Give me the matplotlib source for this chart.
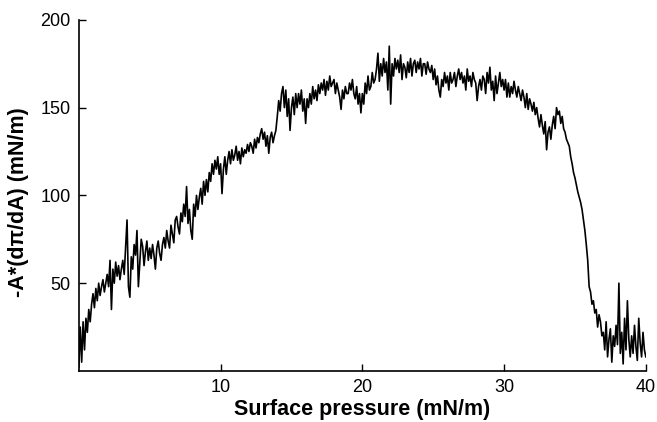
import numpy as np
import matplotlib
matplotlib.use("Agg")
import matplotlib.pyplot as plt

plt.rcParams['font.family'] = ['Liberation Sans', 'DejaVu Sans']

# Surface pressure sampled every 0.1 mN/m from 0 to 40
x_start, x_step = 0.0, 0.1
modulus = [
    2, 25, 5, 28, 12, 30, 22, 35, 28, 38,
    44, 36, 47, 40, 50, 43, 48, 52, 45, 50,
    55, 48, 63, 35, 58, 50, 62, 54, 60, 52,
    58, 63, 55, 70, 86, 48, 42, 65, 58, 72,
    66, 80, 48, 62, 75, 71, 60, 68, 74, 63,
    70, 64, 72, 66, 58, 70, 74, 67, 63, 72,
    76, 70, 80, 74, 70, 83, 78, 73, 86, 88,
    82, 78, 90, 85, 95, 88, 105, 84, 92, 80,
    75, 95, 88, 100, 92, 99, 104, 95, 108, 100,
    109, 102, 113, 108, 118, 112, 120, 115, 122, 112,
    118, 101, 115, 122, 112, 120, 125, 118, 126, 120,
    123, 128, 120, 125, 118, 127, 122, 126, 124, 129,
    125, 130, 128, 124, 132, 127, 133, 130, 135, 138,
    132, 136, 128, 134, 124, 133, 136, 130, 134, 137,
    145, 154, 148, 158, 162, 150, 160, 145, 155, 137,
    150, 156, 146, 158, 150, 158, 152, 160, 148, 155,
    141, 155, 150, 158, 152, 162, 155, 160, 154, 163,
    158, 164, 160, 166, 157, 165, 160, 168, 162, 164,
    166, 158, 164, 160, 156, 149, 160, 155, 162, 158,
    158, 164, 160, 166, 158, 155, 162, 152, 158, 147,
    158, 152, 164, 158, 168, 160, 162, 170, 164, 166,
    172, 181, 165, 175, 168, 178, 170, 176, 160, 185,
    152, 175, 168, 178, 172, 177, 170, 180, 166, 175,
    173, 167, 176, 170, 178, 168, 175, 177, 170, 176,
    172, 178, 168, 175, 175, 169, 176, 172, 170, 174,
    166, 172, 163, 168, 160, 156, 166, 162, 170, 164,
    168, 160, 170, 164, 166, 170, 162, 168, 172, 166,
    170, 164, 168, 160, 172, 165, 168, 162, 170, 166,
    164, 154, 162, 166, 160, 168, 166, 158, 170, 164,
    173, 160, 165, 154, 168, 158, 164, 170, 162, 166,
    160, 166, 156, 164, 156, 162, 158, 165, 160, 156,
    162, 158, 154, 160, 156, 150, 158, 149, 155, 152,
    148, 153, 146, 150, 144, 139, 146, 140, 135, 142,
    126, 136, 139, 132, 140, 145, 138, 150, 146, 148,
    141, 145, 138, 136, 132, 130, 128, 122, 118, 113,
    110, 106, 102, 99, 96, 92, 86, 80, 72, 63,
    48, 45, 38, 40, 33, 35, 25, 32, 28, 20,
    22, 12, 28, 8, 18, 24, 5, 20, 14, 26,
    15, 50, 10, 22, 4, 30, 12, 40, 18, 8,
    20, 10, 26, 14, 6, 30, 16, 8, 22, 12,
    8,
]
pressure = x_start + x_step * np.arange(len(modulus))

x_ticks = [10, 20, 30, 40]
y_ticks = [50, 100, 150, 200]

fig = plt.figure(figsize=(6.57, 4.22), dpi=100)
ax = fig.add_axes([0.120, 0.121, 0.863, 0.832])
ax.plot(pressure, modulus, color='black', linewidth=1.2)

ax.set_xlim(0, 40)
ax.set_ylim(0, 200)
ax.set_xticks(x_ticks)
ax.set_yticks(y_ticks)
ax.tick_params(direction='in', length=5, width=1, labelsize=13, pad=6)
for s in ['top', 'right']:
    ax.spines[s].set_visible(False)
for s in ['left', 'bottom']:
    ax.spines[s].set_linewidth(1.2)

ax.set_xlabel('Surface pressure (mN/m)', fontsize=15.5, fontweight='bold', labelpad=2)
ax.set_ylabel('-A*(dπ/dA) (mN/m)', fontsize=15.5, fontweight='bold')
ax.yaxis.set_label_coords(-0.088, 0.48)

fig.savefig('out.png', dpi=100)
